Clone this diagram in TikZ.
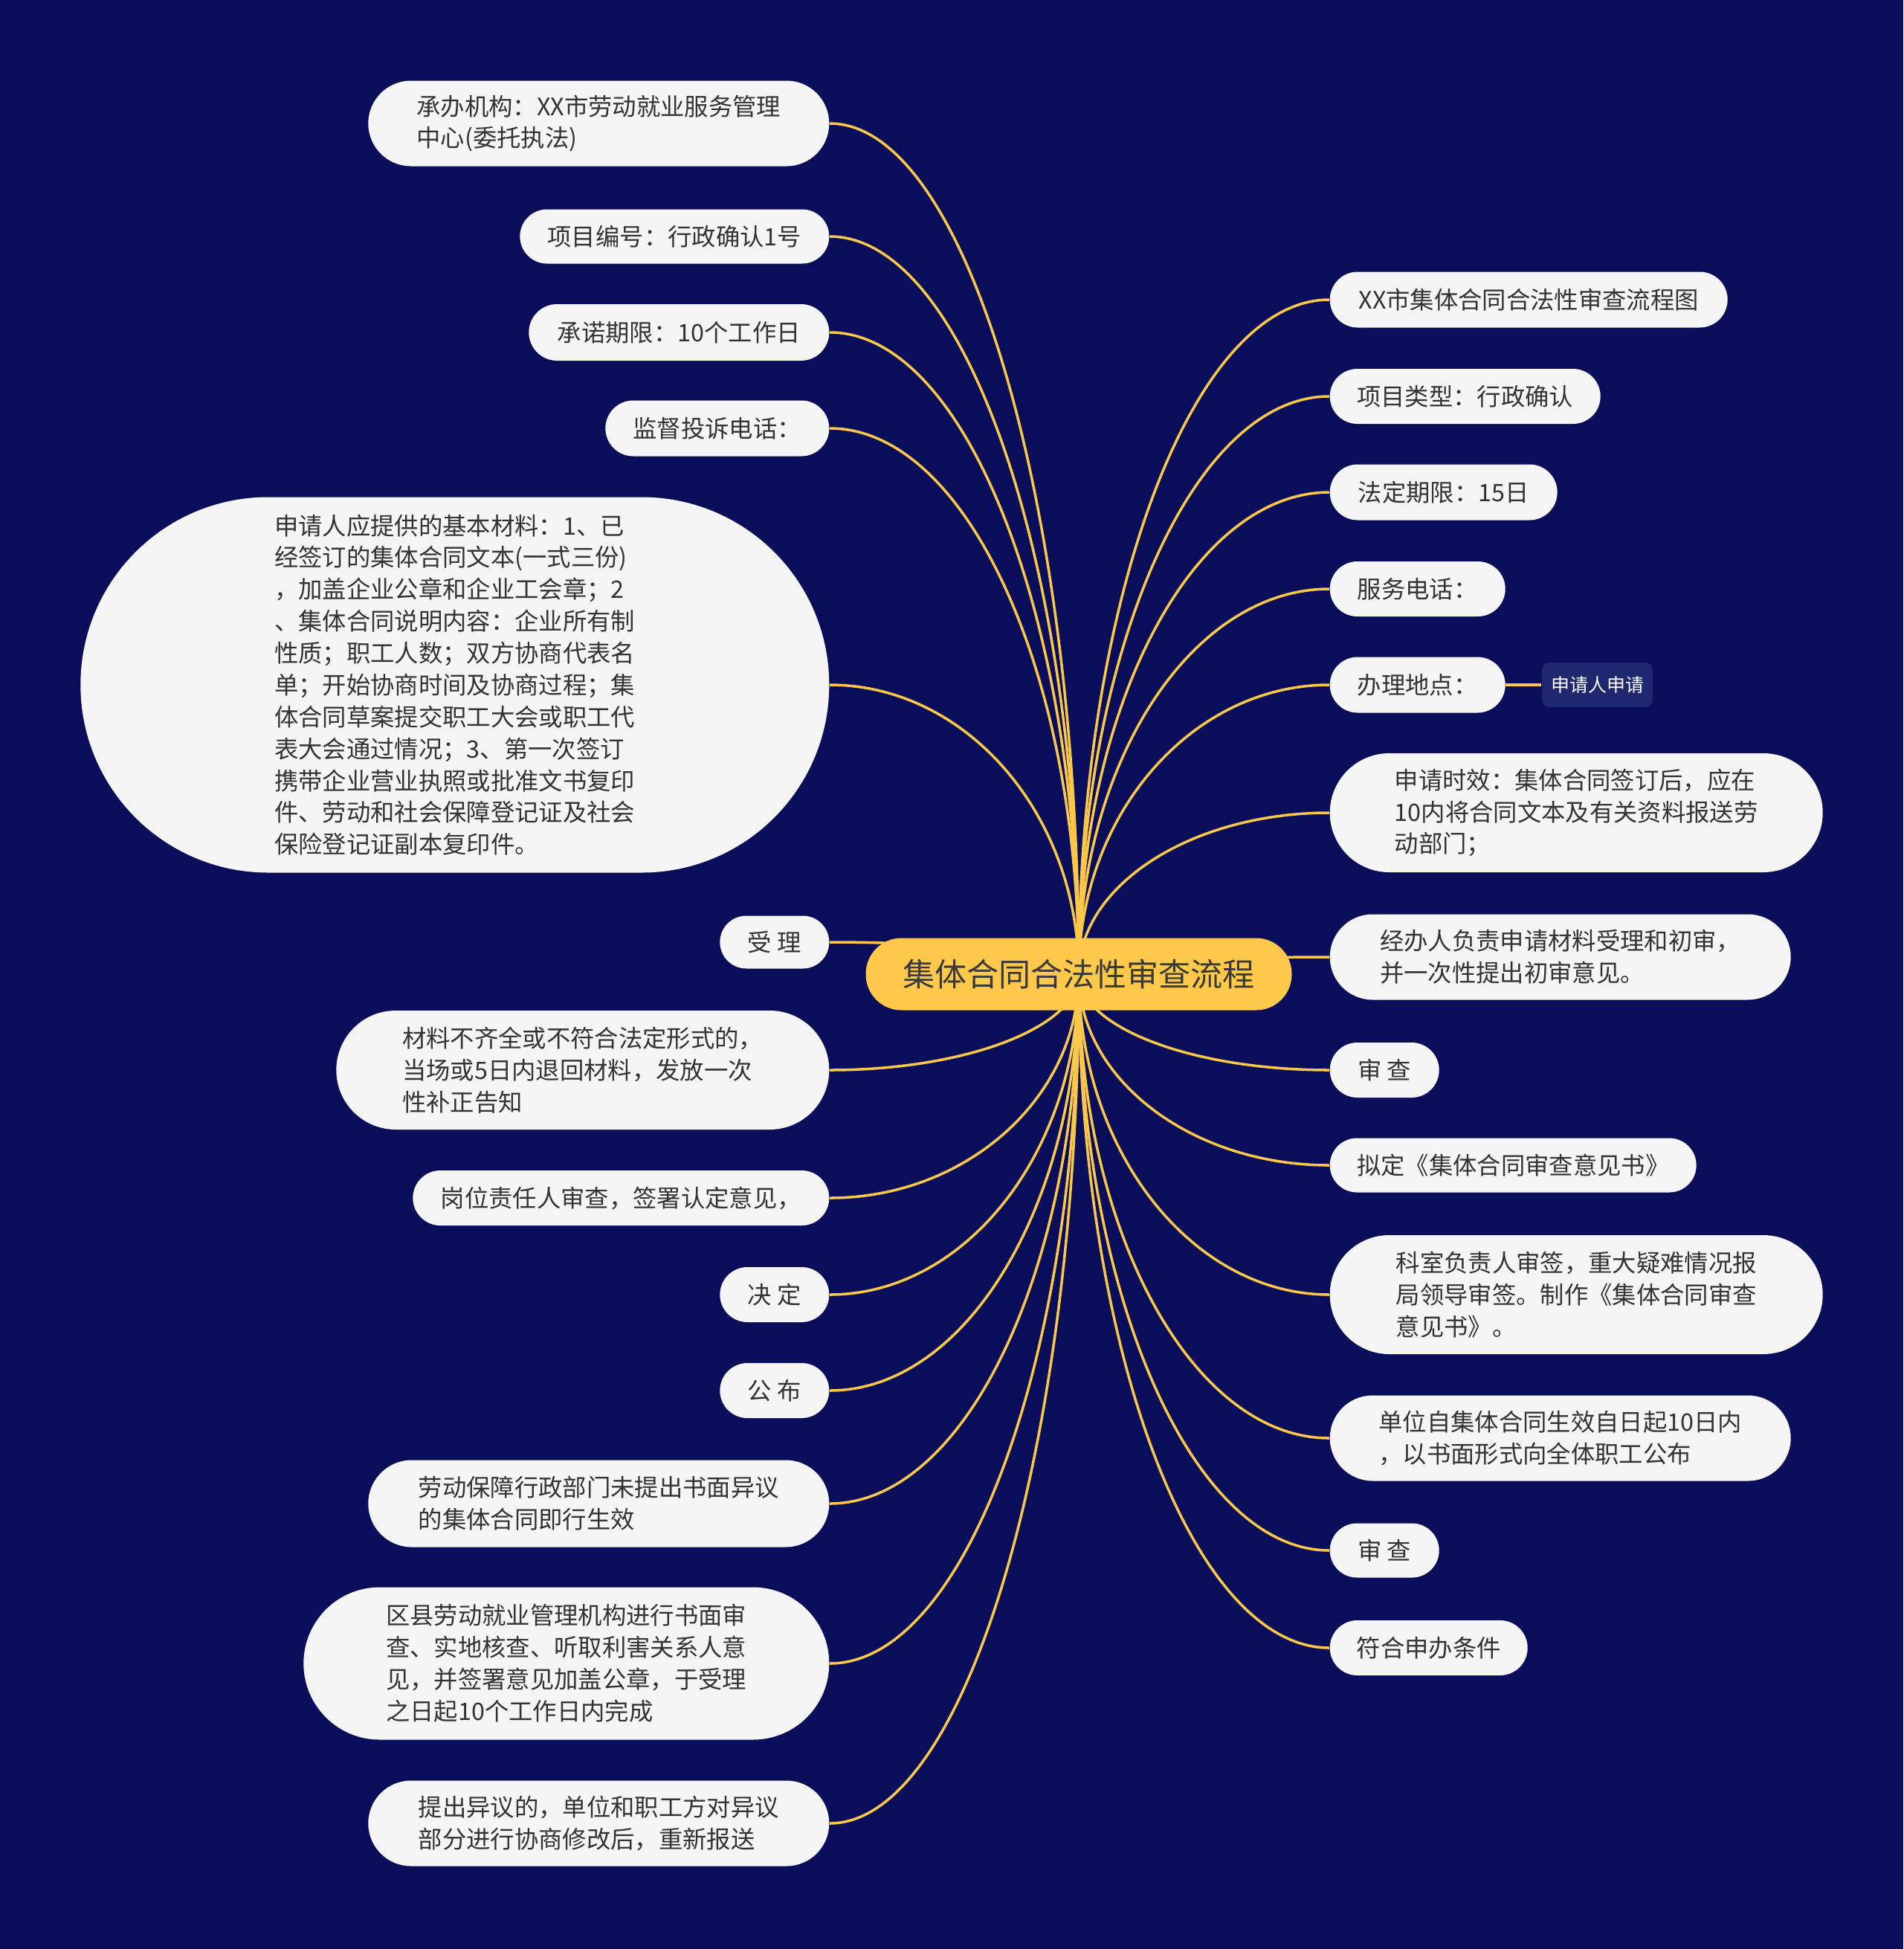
\documentclass[tikz,border=0pt]{standalone}
\usepackage{fontspec}
\setmainfont{Noto Sans CJK SC}
\usepackage{xcolor}
\usetikzlibrary{positioning,calc}
\definecolor{navy}{HTML}{0A0E5A}
\definecolor{gold}{HTML}{F9C74A}
\definecolor{rootfill}{HTML}{FEC84A}
\definecolor{leaffill}{HTML}{F5F5F5}
\definecolor{ink}{HTML}{333333}
\definecolor{hubink}{HTML}{3A3A3A}
\definecolor{tagfill}{HTML}{1F2770}
\pgfdeclarelayer{bg}
\pgfsetlayers{bg,main}
% curved branch from the hub to a leaf
\newcommand{\branch}[2]{\draw[branch] (#1) .. controls ($(#1)!0.55!(#1 |- #2)$) and ($(#2)!0.55!(#1 |- #2)$) .. (#2);}

\begin{document}
\begin{tikzpicture}[
  leaf/.style 2 args={fill=leaffill,text=ink,align=left,inner sep=0pt,
    font=\fontsize{9.2}{12.2}\selectfont,minimum width=#1,minimum height=#2,rounded corners=#2/2},
  hub/.style={fill=rootfill,text=hubink,inner sep=0pt,minimum width=5.73cm,minimum height=0.97cm,
    rounded corners=0.48cm,font=\fontsize{12.25}{14}\selectfont},
  tag/.style={fill=tagfill,text=white,inner sep=0pt,minimum width=1.49cm,minimum height=0.60cm,
    rounded corners=0.1cm,font=\fontsize{7.1}{9}\selectfont},
  branch/.style={gold,line width=1pt}]
  \useasboundingbox (0,0) rectangle (25.6,-26.21);

  \node[hub] (root) at (14.51,-13.10) {集体合同合法性审查流程};

  % left side
  \node[leaf={6.20cm}{1.15cm},anchor=east] (l1) at (11.16,-1.66) {承办机构：XX市劳动就业服务管理\\中心(委托执法)};
  \node[leaf={4.16cm}{0.73cm},anchor=east] (l2) at (11.16,-3.18) {项目编号：行政确认1号};
  \node[leaf={4.04cm}{0.76cm},anchor=east] (l3) at (11.16,-4.47) {承诺期限：10个工作日};
  \node[leaf={3.01cm}{0.75cm},anchor=east] (l4) at (11.16,-5.76) {监督投诉电话：};
  \node[leaf={10.07cm}{5.05cm},anchor=east] (l5) at (11.16,-9.21) {申请人应提供的基本材料：1、已\\经签订的集体合同文本(一式三份)\\，加盖企业公章和企业工会章；2\\、集体合同说明内容：企业所有制\\性质；职工人数；双方协商代表名\\单；开始协商时间及协商过程；集\\体合同草案提交职工大会或职工代\\表大会通过情况；3、第一次签订\\携带企业营业执照或批准文书复印\\件、劳动和社会保障登记证及社会\\保险登记证副本复印件。};
  \node[leaf={1.47cm}{0.71cm},anchor=east] (l6) at (11.16,-12.67) {受 理};
  \node[leaf={6.63cm}{1.60cm},anchor=east] (l7) at (11.16,-14.39) {材料不齐全或不符合法定形式的，\\当场或5日内退回材料，发放一次\\性补正告知};
  \node[leaf={5.60cm}{0.74cm},anchor=east] (l8) at (11.16,-16.11) {岗位责任人审查，签署认定意见，};
  \node[leaf={1.47cm}{0.74cm},anchor=east] (l9) at (11.16,-17.41) {决 定};
  \node[leaf={1.47cm}{0.74cm},anchor=east] (l10) at (11.16,-18.70) {公 布};
  \node[leaf={6.20cm}{1.17cm},anchor=east] (l11) at (11.16,-20.22) {劳动保障行政部门未提出书面异议\\的集体合同即行生效};
  \node[leaf={7.07cm}{2.05cm},anchor=east] (l12) at (11.16,-22.37) {区县劳动就业管理机构进行书面审\\查、实地核查、听取利害关系人意\\见，并签署意见加盖公章，于受理\\之日起10个工作日内完成};
  \node[leaf={6.20cm}{1.15cm},anchor=east] (l13) at (11.16,-24.52) {提出异议的，单位和职工方对异议\\部分进行协商修改后，重新报送};

  % right side
  \node[leaf={5.35cm}{0.75cm},anchor=west] (r1) at (17.88,-4.03) {XX市集体合同合法性审查流程图};
  \node[leaf={3.64cm}{0.74cm},anchor=west] (r2) at (17.88,-5.33) {项目类型：行政确认};
  \node[leaf={3.06cm}{0.75cm},anchor=west] (r3) at (17.88,-6.62) {法定期限：15日};
  \node[leaf={2.36cm}{0.74cm},anchor=west] (r4) at (17.88,-7.92) {服务电话：};
  \node[leaf={2.36cm}{0.75cm},anchor=west] (r5) at (17.88,-9.21) {办理地点：};
  \node[tag,right=0.48cm of r5] (r5a) {申请人申请};
  \node[leaf={6.63cm}{1.60cm},anchor=west] (r6) at (17.88,-10.93) {申请时效：集体合同签订后，应在\\10内将合同文本及有关资料报送劳\\动部门；};
  \node[leaf={6.20cm}{1.15cm},anchor=west] (r7) at (17.88,-12.87) {经办人负责申请材料受理和初审，\\并一次性提出初审意见。};
  \node[leaf={1.47cm}{0.74cm},anchor=west] (r8) at (17.88,-14.39) {审 查};
  \node[leaf={4.93cm}{0.73cm},anchor=west] (r9) at (17.88,-15.67) {拟定《集体合同审查意见书》};
  \node[leaf={6.63cm}{1.60cm},anchor=west] (r10) at (17.88,-17.41) {科室负责人审签，重大疑难情况报\\局领导审签。制作《集体合同审查\\意见书》。};
  \node[leaf={6.20cm}{1.15cm},anchor=west] (r11) at (17.88,-19.34) {单位自集体合同生效自日起10日内\\，以书面形式向全体职工公布};
  \node[leaf={1.47cm}{0.73cm},anchor=west] (r12) at (17.88,-20.85) {审 查};
  \node[leaf={2.66cm}{0.74cm},anchor=west] (r13) at (17.88,-22.16) {符合申办条件};

  \begin{pgfonlayer}{bg}
    \fill[navy] (0,0) rectangle (25.6,-26.21);
    \foreach \n in {l1,l2,l3,l4,l5,l6,l7,l8,l9,l10,l11,l12,l13}
      {\branch{root.center}{\n.east}}
    \foreach \n in {r1,r2,r3,r4,r5,r6,r7,r8,r9,r10,r11,r12,r13}
      {\branch{root.center}{\n.west}}
    \draw[branch] (r5) -- (r5a);
  \end{pgfonlayer}
\end{tikzpicture}
\end{document}
